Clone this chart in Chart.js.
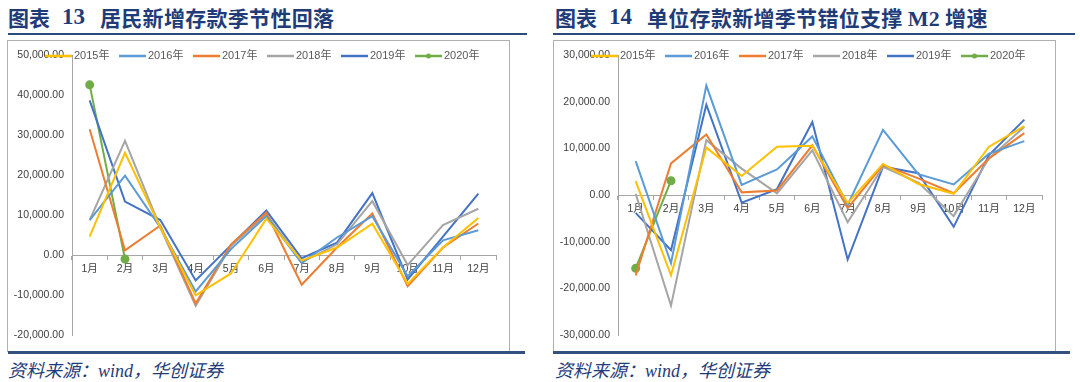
<!DOCTYPE html>
<html>
<head>
<meta charset="utf-8">
<script src="https://cdn.jsdelivr.net/npm/chart.js@4.4.1/dist/chart.umd.min.js"></script>
<style>
    body { margin: 0; width: 1080px; height: 382px; background: #fff; position: relative; overflow: hidden;
           font-family: "Noto Sans CJK SC", sans-serif; }
    .t { position: absolute; top: 4px; font-size: 21px; font-weight: bold; color: #1f3c78; white-space: nowrap; line-height: 26px; }
    .num { font-family: "Liberation Serif", serif; font-size: 23px; }
    .rule { position: absolute; top: 33px; height: 2px; background: #2a4a80; }
    .box { position: absolute; top: 40px; width: 501px; height: 311px; border: 1px solid #b0b0b0; border-bottom: none; }
    .base { position: absolute; top: 351px; height: 3px; background: #34507f; }
    .src { position: absolute; top: 356px; font-size: 18px; font-style: italic; color: #1f3c78; white-space: nowrap; }
    .src i { font-family: "Liberation Serif", serif; }
    canvas { position: absolute; top: 41px; }
</style>
</head>
<body>
<div class="t" style="left:8px">图表</div>
<div class="t num" style="left:62px">13</div>
<div class="t" style="left:100px;letter-spacing:0.3px">居民新增存款季节性回落</div>
<div class="rule" style="left:8px;width:519px"></div>
<div class="box" style="left:7px"></div>
<canvas id="hhChart" width="500" height="310" style="left:8px"></canvas>
<div class="base" style="left:8px;width:517px"></div>
<div class="src" style="left:8px">资料来源：<i>wind</i>，华创证券</div>

<div class="t" style="left:555px">图表</div>
<div class="t num" style="left:609px">14</div>
<div class="t" style="left:647px;letter-spacing:0.3px">单位存款新增季节错位支撑 <span class="num" style="font-size:22px">M2</span> 增速</div>
<div class="rule" style="left:553px;width:522px"></div>
<div class="box" style="left:553px"></div>
<canvas id="corpChart" width="500" height="310" style="left:554px"></canvas>
<div class="base" style="left:553px;width:517px"></div>
<div class="src" style="left:555px">资料来源：<i>wind</i>，华创证券</div>

<script>
// categories and series
const months = ['1月', '2月', '3月', '4月', '5月', '6月', '7月', '8月', '9月', '10月', '11月', '12月'];
const years = ['2015年', '2016年', '2017年', '2018年', '2019年', '2020年'];
const colors = ['#FFC000', '#5B9BD5', '#ED7D31', '#A5A5A5', '#4472C4', '#70AD47'];

// 图表13 居民新增存款
const hh2015 = [4600, 25600, 6900, -10100, -4600, 9100, -1400, 1900, 7850, -7200, 1900, 9300];
const hh2016 = [8760, 19900, 6900, -9100, 1500, 9750, -2000, 4400, 9750, -5300, 3700, 6200];
const hh2017 = [31500, 1200, 7400, -12100, 2700, 10600, -7400, 1900, 10400, -7800, 1900, 7900];
const hh2018 = [8760, 28600, 6900, -12700, 2300, 10200, -1800, 2700, 13500, -2500, 7500, 11600];
const hh2019 = [38700, 13400, 8760, -6360, 2500, 11150, -800, 3100, 15500, -6100, 4600, 15400];
const hh2020 = [42600, -1000];

// 图表14 单位存款新增
const co2015 = [3000, -17200, 10200, 4100, 10400, 10600, -1700, 6700, 2400, 300, 10400, 14800];
const co2016 = [7300, -14600, 23500, 2200, 5500, 12600, -2100, 14000, 4500, 2300, 8900, 11600];
const co2017 = [-17200, 6800, 13000, 600, 1000, 10700, -2800, 6500, 3600, 400, 7900, 13300];
const co2018 = [300, -23700, 11800, 5700, 400, 9600, -5800, 6100, 2700, -4500, 7900, 14600];
const co2019 = [-3800, -11800, 19400, -1600, 1300, 15700, -13800, 6100, 4700, -6800, 8600, 16200];
const co2020 = [-15700, 3100];

const axisColor = '#a6a6a6';
const tickFont = { family: '"Liberation Sans", "Noto Sans CJK SC", sans-serif', size: 10.5 };

// legend drawn over the top of the plot, like the Excel original
const lineLegend = {
    id: 'lineLegend',
    afterDraw(chart, args, opts) {
        const ctx = chart.ctx;
        ctx.save();
        ctx.font = '11px "Liberation Sans", "Noto Sans CJK SC", sans-serif';
        ctx.textBaseline = 'middle';
        chart.data.datasets.forEach((ds, i) => {
            const x = opts.x + i * opts.step;
            ctx.strokeStyle = ds.borderColor;
            ctx.lineWidth = 2.5;
            ctx.beginPath();
            ctx.moveTo(x, opts.y);
            ctx.lineTo(x + 27, opts.y);
            ctx.stroke();
            if (ds.pointRadius > 0) {
                ctx.fillStyle = ds.borderColor;
                ctx.beginPath();
                ctx.arc(x + 13.5, opts.y, 2.5, 0, Math.PI * 2);
                ctx.fill();
            }
            ctx.fillStyle = '#595959';
            ctx.fillText(ds.label, x + 29, opts.y);
        });
        ctx.restore();
    }
};

function makeChart(id, series, yMin, yMax) {
    new Chart(document.getElementById(id), {
        type: 'line',
        data: {
            labels: months,
            datasets: series.map((d, i) => ({
                label: years[i],
                data: d,
                borderColor: colors[i],
                backgroundColor: colors[i],
                borderWidth: 2,
                pointRadius: i === 5 ? 3.5 : 0,
                pointHoverRadius: 0,
                tension: 0
            }))
        },
        options: {
            responsive: false,
            animation: false,
            layout: { padding: { top: 12, bottom: 16, right: 12, left: 0 } },
            plugins: {
                legend: { display: false },
                tooltip: { enabled: false },
                lineLegend: { x: 37, y: 15, step: 74 }
            },
            scales: {
                x: {
                    position: { y: 0 },
                    offset: true,
                    grid: { drawOnChartArea: false, drawTicks: true, tickLength: 4, color: axisColor, offset: true },
                    border: { color: axisColor },
                    ticks: { color: '#404040', font: tickFont, padding: 4, maxRotation: 0, autoSkip: false }
                },
                y: {
                    min: yMin,
                    max: yMax,
                    afterFit: s => { s.width = 64; },
                    grid: { display: false, drawTicks: false },
                    border: { color: axisColor },
                    ticks: {
                        stepSize: 10000,
                        padding: 8,
                        color: '#404040',
                        font: tickFont,
                        callback: v => v.toLocaleString('en-US', { minimumFractionDigits: 2, maximumFractionDigits: 2 })
                    }
                }
            }
        },
        plugins: [lineLegend]
    });
}

makeChart('hhChart', [hh2015, hh2016, hh2017, hh2018, hh2019, hh2020], -20000, 50000);
makeChart('corpChart', [co2015, co2016, co2017, co2018, co2019, co2020], -30000, 30000);
</script>
</body>
</html>
